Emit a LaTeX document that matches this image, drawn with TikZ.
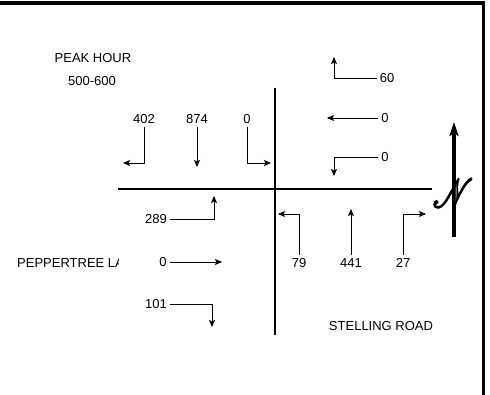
\documentclass[tikz,border=0pt]{standalone}
\usepackage{fontspec}
\setmainfont{Liberation Sans}
\usepackage{mathrsfs}
\usepackage{tikz}
\usetikzlibrary{
  arrows.meta,
  positioning,
  calc
}
% filled and outlined letter
\newcommand{\outlined}[1]{\special{pdf:literal direct 2 Tr 0.45 w 0 0 0 RG}#1\special{pdf:literal direct 0 Tr}}

\begin{document}
\begin{tikzpicture}[x=1pt, y=-1pt,
    road/.style={line width=2pt},
    mov/.style={line width=0.9pt, -{Stealth[length=7pt, width=6pt, inset=1.5pt]}},
    vol/.style={font=\fontsize{13}{15}\selectfont, inner sep=3pt},
    lbl/.style={font=\fontsize{13}{15}\selectfont, inner sep=0pt}]
  \useasboundingbox (0,0) rectangle (490,395);
  % sheet border (top and right only)
  \draw[line width=3.5pt] (0,3) -- (483.5,3) -- (483.5,395);
  % roads
  \draw[road] (275,88) -- (275,335);
  \draw[road] (118,189) -- (432,189);
  % north arrow
  \draw[line width=3.5pt, -{Stealth[length=14pt, width=9pt, inset=3pt]}] (454,237) -- (454,122);
  \node[inner sep=0pt, xscale=3.2, yscale=4, text=black!50] (nsym) at (453,193) {\outlined{$\mathscr{N}$}};
  % titles
  \node[lbl] (peak) at (93,58) {PEAK HOUR};
  \node[lbl] (hour) at (92,81) {500-600};
  \node[lbl] (stelling) at (381,326) {STELLING ROAD};
  \begin{scope}
    \clip (0,240) rectangle (118,290);
    \node[lbl, anchor=west] (peppertree) at (17,263) {PEPPERTREE LANE};
  \end{scope}
  % southbound
  \node[vol] (sb-l) at (144,119) {402};
  \node[vol] (sb-t) at (197,119) {874};
  \node[vol] (sb-r) at (247,119) {0};
  \coordinate (sb-l-end) at (123,163);
  \coordinate (sb-t-end) at (197,167);
  \coordinate (sb-r-end) at (271,163);
  \draw[mov] (sb-l) |- (sb-l-end);
  \draw[mov] (sb-t) -- (sb-t-end);
  \draw[mov] (sb-r) |- (sb-r-end);
  % westbound
  \node[vol] (wb-r) at (387,78) {60};
  \node[vol] (wb-t) at (385,118) {0};
  \node[vol] (wb-l) at (385,157) {0};
  \coordinate (wb-r-end) at (334,57);
  \coordinate (wb-t-end) at (327,118);
  \coordinate (wb-l-end) at (334,176);
  \draw[mov] (wb-r) -| (wb-r-end);
  \draw[mov] (wb-t) -- (wb-t-end);
  \draw[mov] (wb-l) -| (wb-l-end);
  % eastbound
  \node[vol] (eb-l) at (156,219) {289};
  \node[vol] (eb-t) at (163,262) {0};
  \node[vol] (eb-r) at (156,304) {101};
  \coordinate (eb-l-end) at (214,196);
  \coordinate (eb-t-end) at (222,262);
  \coordinate (eb-r-end) at (212,327);
  \draw[mov] (eb-l) -| (eb-l-end);
  \draw[mov] (eb-t) -- (eb-t-end);
  \draw[mov] (eb-r) -| (eb-r-end);
  % northbound
  \node[vol] (nb-l) at (299,263) {79};
  \node[vol] (nb-t) at (351,263) {441};
  \node[vol] (nb-r) at (403,263) {27};
  \coordinate (nb-l-end) at (278,214);
  \coordinate (nb-t-end) at (351,209);
  \coordinate (nb-r-end) at (426,214);
  \draw[mov] (nb-l) |- (nb-l-end);
  \draw[mov] (nb-t) -- (nb-t-end);
  \draw[mov] (nb-r) |- (nb-r-end);
\end{tikzpicture}
\end{document}
